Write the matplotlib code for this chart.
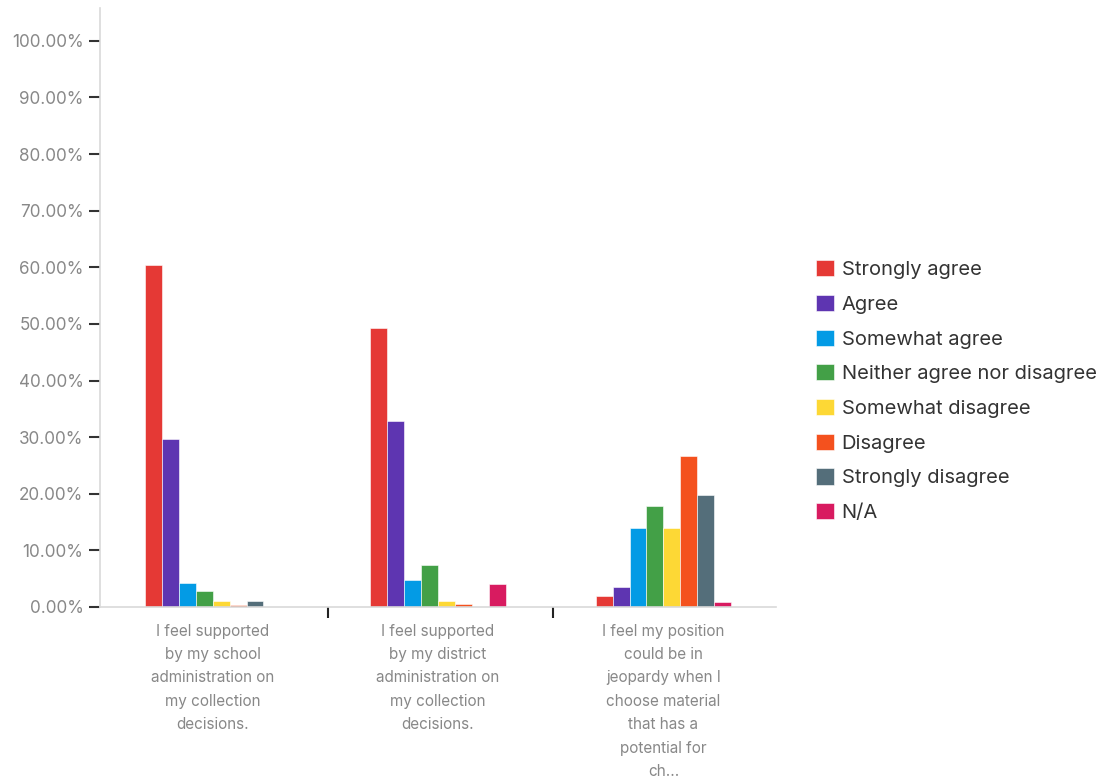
import matplotlib.pyplot as plt
import numpy as np
from matplotlib.patches import Patch

plt.rcParams['font.family'] = ['Inter', 'DejaVu Sans']

questions = [
    "I feel supported\nby my school\nadministration on\nmy collection\ndecisions.",
    "I feel supported\nby my district\nadministration on\nmy collection\ndecisions.",
    "I feel my position\ncould be in\njeopardy when I\nchoose material\nthat has a\npotential for\nch...",
]
responses = ["Strongly agree", "Agree", "Somewhat agree", "Neither agree nor disagree",
             "Somewhat disagree", "Disagree", "Strongly disagree", "N/A"]
colors = ["#E53935", "#5E35B1", "#039BE5", "#43A047",
          "#FDD835", "#F4511E", "#546E7A", "#D81B60"]

# percent per response, one list per question
school = [60.4, 29.7, 4.2, 2.9, 1.0, 0.4, 1.0, 0.0]
district = [49.3, 32.8, 4.7, 7.5, 1.1, 0.5, 0.0, 4.0]
position = [1.9, 3.6, 14.0, 17.8, 14.0, 26.6, 19.8, 0.9]
values = np.array([school, district, position])

fig = plt.figure(figsize=(11.08, 7.84), dpi=100)
ax = fig.add_axes([0.0903, 0.2258, 0.6101, 0.764])

x = np.arange(len(questions))
n = len(responses)
w = 0.6 / n
for i in range(n):
    ax.bar(x - 0.3 + w * (i + 0.5), values[:, i], width=w, color=colors[i],
           edgecolor="white", linewidth=0.4)

ax.set_xlim(-0.5, 2.5)
ax.set_ylim(0, 105.8)
ax.set_yticks(np.arange(0, 101, 10))
ax.set_yticklabels(["{:.2f}%".format(v) for v in np.arange(0, 101, 10)])
ax.tick_params(axis='y', length=8, width=1.5, color="#333333", labelcolor="#888888",
               labelsize=12.3, pad=4)

ax.set_xticks(x)
ax.set_xticklabels(questions, color="#888888", fontsize=11, linespacing=1.7, va="top")
ax.tick_params(axis='x', which='major', length=0, pad=12)
ax.set_xticks([0.51, 1.51], minor=True)
ax.tick_params(axis='x', which='minor', length=8, width=1.5, color="#222222")

for s in ["top", "right"]:
    ax.spines[s].set_visible(False)
ax.spines["left"].set_color("#d9d9d9")
ax.spines["bottom"].set_color("#d9d9d9")
ax.spines["left"].set_linewidth(1.2)
ax.spines["bottom"].set_linewidth(1.2)

handles = [Patch(facecolor=c, edgecolor="white", linewidth=0.4) for c in colors]
fig.legend(handles, responses, loc="center left", bbox_to_anchor=(0.7205, 0.501),
           frameon=False, fontsize=14.5, labelcolor="#333333",
           handlelength=0.85, handleheight=0.85, handletextpad=0.4, labelspacing=0.78)

fig.savefig("out.png", dpi=100)
